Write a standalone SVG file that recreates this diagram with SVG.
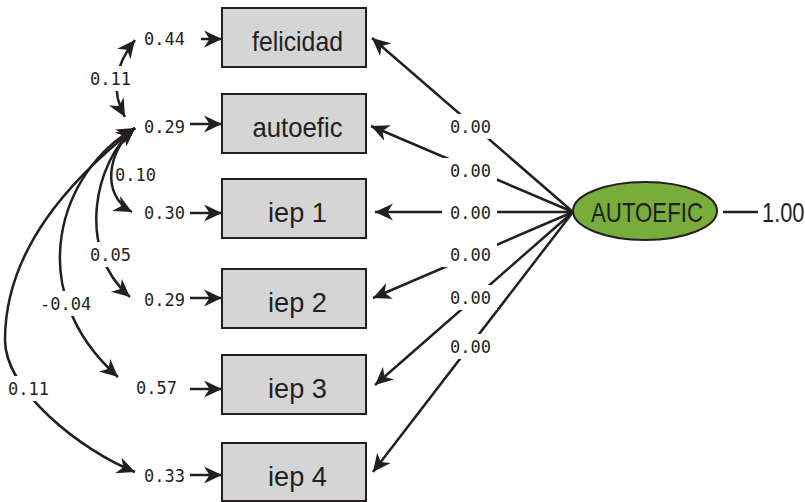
<svg xmlns="http://www.w3.org/2000/svg" width="805" height="502" viewBox="0 0 805 502">
  <style>
    .box { fill: #d5d5d5; stroke: #231f20; stroke-width: 2; }
    .latent { fill: #78ad3c; stroke: #231f20; stroke-width: 2; }
    .name { font-family: "Liberation Sans", Arial, sans-serif; font-size: 28px; fill: #231f20; text-anchor: middle; }
    .num { font-family: "DejaVu Sans Mono", "Liberation Mono", monospace; font-size: 17px; fill: #231f20; }
    .edge { fill: none; stroke: #231f20; stroke-width: 2.5; }
    .arr { marker-end: url(#head); }
    .dbl { marker-start: url(#head); marker-end: url(#head); }
    .bg { fill: #ffffff; }
  </style>
  <defs>
    <marker id="head" viewBox="-18 -9 18 18" refX="0" refY="0" markerWidth="18" markerHeight="18" markerUnits="userSpaceOnUse" orient="auto-start-reverse">
      <path d="M0,0 L-18,-8.5 L-12.5,0 L-18,8.5 Z" fill="#231f20"/>
    </marker>
  </defs>

  <!-- connectors: loadings, residual arrows, covariances -->
  <g id="connectors">
    <!-- loadings from the latent factor -->
    <path class="edge arr" d="M573,212 L372,38"/>
    <path class="edge arr" d="M573,212 L371,126"/>
    <path class="edge arr" d="M573,212 L375,212"/>
    <path class="edge arr" d="M573,212 L373,298"/>
    <path class="edge arr" d="M573,212 L375,385"/>
    <path class="edge arr" d="M573,212 L373,472"/>
    <!-- latent variance stub -->
    <path class="edge" d="M723,212 L758,212"/>

    <!-- residual arrows into the indicators -->
    <path class="edge arr" d="M201,39 L222,39"/>
    <path class="edge arr" d="M190,124 L222,124"/>
    <path class="edge arr" d="M190,213 L222,213"/>
    <path class="edge arr" d="M190,298 L222,298"/>
    <path class="edge arr" d="M190,389 L222,389"/>
    <path class="edge arr" d="M190,475 L222,475"/>

    <!-- residual covariances -->
    <path class="edge dbl" d="M135,40 C115,65 110,90 125,117"/>
    <path class="edge dbl" d="M135,128 C108,150 100,195 132,212"/>
    <path class="edge dbl" d="M135,128 C95,160 75,250 130,297"/>
    <path class="edge dbl" d="M135,128 C60,170 20,290 118,377"/>
    <path class="edge dbl" d="M135,128 C70,180 5,250 5,340 C5,390 80,450 135,472"/>

    <!-- label backgrounds break the lines -->
    <rect class="bg" x="442" y="114" width="55" height="25"/>
    <rect class="bg" x="442" y="158" width="55" height="25"/>
    <rect class="bg" x="442" y="200" width="55" height="25"/>
    <rect class="bg" x="442" y="242" width="55" height="25"/>
    <rect class="bg" x="442" y="285" width="55" height="25"/>
    <rect class="bg" x="442" y="334" width="55" height="25"/>
    <rect class="bg" x="84" y="66" width="53" height="25"/>
    <rect class="bg" x="84" y="242" width="53" height="25"/>
    <rect class="bg" x="33" y="291" width="66" height="25"/>
    <rect class="bg" x="1" y="376" width="55" height="25"/>

    <!-- loading labels -->
    <text class="num" x="450" y="133">0.00</text>
    <text class="num" x="450" y="177">0.00</text>
    <text class="num" x="450" y="219">0.00</text>
    <text class="num" x="450" y="261">0.00</text>
    <text class="num" x="450" y="304">0.00</text>
    <text class="num" x="450" y="353">0.00</text>

    <!-- residual variances -->
    <text class="num" x="144" y="45">0.44</text>
    <text class="num" x="144" y="133">0.29</text>
    <text class="num" x="144" y="219">0.30</text>
    <text class="num" x="144" y="306">0.29</text>
    <text class="num" x="136" y="394">0.57</text>
    <text class="num" x="144" y="482">0.33</text>

    <!-- covariance labels -->
    <text class="num" x="90" y="85">0.11</text>
    <text class="num" x="115" y="181">0.10</text>
    <text class="num" x="90" y="261">0.05</text>
    <text class="num" x="40" y="310">-0.04</text>
    <text class="num" x="8" y="395">0.11</text>

    <!-- latent variance, set condensed -->
    <text class="name" transform="translate(762,222) scale(0.78,1)" x="0" y="0" font-size="24" style="text-anchor:start">1.00</text>
  </g>

  <!-- observed indicators -->
  <g id="felicidad">
    <rect class="box" x="222" y="8" width="144" height="59"/>
    <text class="name" x="297.5" y="51" textLength="91" lengthAdjust="spacingAndGlyphs">felicidad</text>
  </g>
  <g id="autoefic">
    <rect class="box" x="222" y="94" width="144" height="59"/>
    <text class="name" x="297.5" y="137" textLength="90" lengthAdjust="spacingAndGlyphs">autoefic</text>
  </g>
  <g id="iep1">
    <rect class="box" x="222" y="179" width="144" height="59"/>
    <text class="name" x="297.5" y="222" textLength="59" lengthAdjust="spacingAndGlyphs">iep 1</text>
  </g>
  <g id="iep2">
    <rect class="box" x="222" y="269" width="144" height="59"/>
    <text class="name" x="297.5" y="312" textLength="59" lengthAdjust="spacingAndGlyphs">iep 2</text>
  </g>
  <g id="iep3">
    <rect class="box" x="222" y="355" width="144" height="59"/>
    <text class="name" x="297.5" y="398" textLength="59" lengthAdjust="spacingAndGlyphs">iep 3</text>
  </g>
  <g id="iep4">
    <rect class="box" x="222" y="443" width="144" height="58"/>
    <text class="name" x="297.5" y="486" textLength="59" lengthAdjust="spacingAndGlyphs">iep 4</text>
  </g>

  <!-- latent factor -->
  <g id="AUTOEFIC">
    <ellipse class="latent" cx="645" cy="211" rx="72" ry="29"/>
    <text class="name" x="647" y="222" textLength="112" lengthAdjust="spacingAndGlyphs">AUTOEFIC</text>
  </g>
</svg>
